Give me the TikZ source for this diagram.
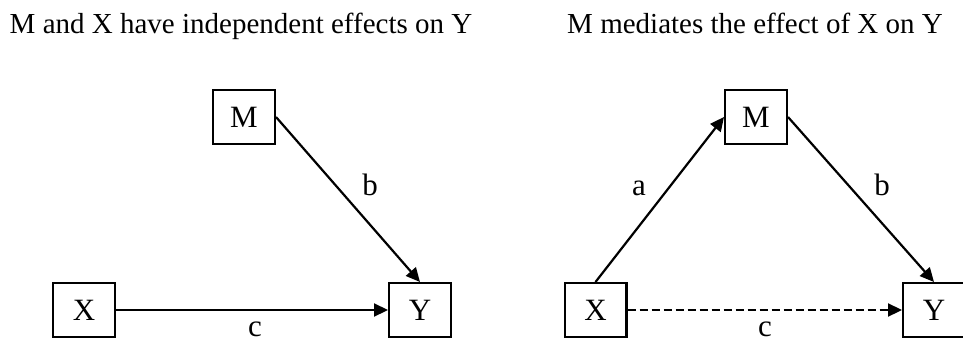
\documentclass[tikz,border=0pt]{standalone}
\usepackage{fontspec}
\setmainfont{Liberation Serif}
\usetikzlibrary{arrows.meta}
\begin{document}
\begin{tikzpicture}[x=1pt,y=1pt,
  varbox/.style={draw, line width=2.4pt, minimum width=61.6pt, minimum height=53.6pt, inner sep=0pt, font=\fontsize{31}{34}\selectfont},
  link/.style={line width=2.2pt, -{Triangle[length=14pt,width=13pt]}},
  lbl/.style={anchor=base, font=\fontsize{31}{34}\selectfont},
  ttl/.style={anchor=base, font=\fontsize{29}{32}\selectfont}]
\useasboundingbox (0,0) rectangle (963,341);
% left panel
\node[ttl] (t1) at (241,308) {M and X have independent effects on Y};
\node[varbox] (M1) at (244,224) {M};
\node[varbox] (X1) at (84,31) {X};
\node[varbox] (Y1) at (420,31) {Y};
\draw[link] (M1.east) -- (Y1.north);
\draw[link] (X1.east) -- (Y1.west);
\node[lbl] (b1) at (370,146) {b};
\node[lbl] (c1) at (255,5) {c};
% right panel
\node[ttl] (t2) at (755,308) {M mediates the effect of X on Y};
\node[varbox] (M2) at (756,224) {M};
\node[varbox] (X2) at (595.5,31) {X};
\node[varbox] (Y2) at (934,31) {Y};
\draw[link] (X2.north) -- (M2.west);
\draw[link] (M2.east) -- (Y2.north);
\draw[link, dash pattern=on 8pt off 4pt] (X2.east) -- (Y2.west);
\node[lbl] (a2) at (639,146) {a};
\node[lbl] (b2) at (882,146) {b};
\node[lbl] (c2) at (765,5) {c};
\end{tikzpicture}
\end{document}
